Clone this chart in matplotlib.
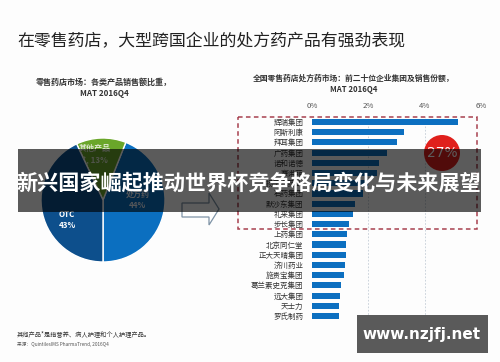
import matplotlib
matplotlib.use("Agg")
import matplotlib.pyplot as plt
from matplotlib.patches import Rectangle, Circle, FancyArrow, Polygon
import numpy as np

plt.rcParams['font.family'] = ['Noto Sans CJK SC', 'DejaVu Sans']

# ---------------- data ----------------
main_title = "在零售药店，大型跨国企业的处方药产品有强劲表现"
pie_title = "零售药店市场：各类产品销售额比重，\nMAT 2016Q4"
pie_labels = ["处方药", "其他产品\n*", "OTC"]
pie_values = [44, 13, 43]
pie_colors = ["#0b6fc0", "#6aa62a", "#0d4f8c"]

bar_title = "全国零售药店处方药市场：前二十位企业集团及销售份额，\nMAT 2016Q4"
companies = ["辉瑞集团", "阿斯利康", "拜耳集团", "广药集团", "诺和诺德", "赛诺菲",
             "扬子江药业", "石药集团", "默沙东集团", "礼来集团", "步长集团", "上药集团",
             "北京同仁堂", "正大天晴集团", "济川药业", "施贵宝集团", "葛兰素史克集团",
             "远大集团", "天士力", "罗氏制药"]
shares = [5.2, 3.27, 3.02, 2.67, 2.39, 2.3, 2.0, 1.82, 1.53, 1.45, 1.32, 1.23,
          1.21, 1.2, 1.17, 1.14, 1.02, 1.0, 0.96, 0.96]
x_ticks = [0, 2, 4, 6]
x_ticklabels = ["0%", "2%", "4%", "6%"]
top_group_share = "27%"
n_top = 11

banner_text = "新兴国家崛起推动世界杯竞争格局变化与未来展望"
watermark = "www.nzjfj.net"
footnote = "其他产品*是指营养、病人护理和个人护理产品。"
source = "来源：QuintilesIMS PharmaTrend, 2016Q4"

W, H = 500, 362
fig = plt.figure(figsize=(W / 100, H / 100), dpi=100)
fig.patch.set_facecolor("#fdfdfd")

def fx(x):
    return x / W

def fy(y):
    return 1 - y / H

# ---------------- titles ----------------
fig.text(fx(17), fy(41), main_title, fontsize=12.2, color="#222222",
         ha="left", va="center", fontweight="medium")
fig.text(fx(104), fy(88), pie_title, fontsize=5.8, color="#333333",
         ha="center", va="center", fontweight="bold", linespacing=1.3)
fig.text(fx(354), fy(84), bar_title, fontsize=5.6, color="#333333",
         ha="center", va="center", fontweight="bold", linespacing=1.3)
fig.text(fx(17), fy(334), footnote, fontsize=4.5, color="#333333",
         ha="left", va="center", style="italic")
fig.text(fx(17), fy(344), source, fontsize=3.4, color="#555555",
         ha="left", va="center")

# ---------------- pie ----------------
cx, cy, r = 103, 200, 62
pax = fig.add_axes([fx(cx - r), fy(cy + r), fx(2 * r), (2 * r) / H])
wedges, _ = pax.pie(pie_values, colors=pie_colors, startangle=-90,
                    counterclock=True,
                    wedgeprops=dict(edgecolor="white", linewidth=1.0))
pax.set_xlim(-1, 1)
pax.set_ylim(-1, 1)
pax.set_aspect("auto")
pax.axis("off")
label_pos = [(0.56, 0.0), (-0.13, 0.74), (-0.58, -0.32)]
label_col = ["#e8eef5", "#dfe8d0", "white"]
for lab, v, (lx, ly), c in zip(pie_labels, pie_values, label_pos, label_col):
    txt = f"{lab}\n{v}%" if "*" not in lab else f"{lab.splitlines()[0]}\n{lab.splitlines()[1]}, {v}%"
    pax.text(lx, ly, txt, ha="center", va="center", fontsize=5.8,
             color=c, fontweight="bold", linespacing=1.25)

# ---------------- bars ----------------
top_px, bot_px = 116.9, 321.1
bax = fig.add_axes([fx(312), fy(bot_px), fx(481) - fx(312), (bot_px - top_px) / H])
y = np.arange(len(companies))
bax.barh(y, shares, height=0.6, color="#0c6fc0", zorder=3)
bax.set_ylim(len(companies) - 0.5, -0.5)
bax.set_xlim(0, 6)
bax.set_yticks(y)
bax.set_yticklabels(companies, fontsize=5.4, color="#333333")
bax.set_xticks(x_ticks)
bax.set_xticklabels(x_ticklabels, fontsize=5.6, color="#555555")
bax.xaxis.tick_top()
bax.tick_params(axis="both", length=0)
bax.tick_params(axis="x", pad=5)
bax.tick_params(axis="y", pad=6)
for s in bax.spines.values():
    s.set_visible(False)
for t in x_ticks[1:-1]:
    bax.axvline(t, color="#c3ccd6", linewidth=0.6, linestyle=(0, (2, 2)), zorder=1)
bax.set_facecolor("none")

# ---------------- overlay (pixel coords) ----------------
ov = fig.add_axes([0, 0, 1, 1], zorder=10)
ov.set_xlim(0, W)
ov.set_ylim(H, 0)
ov.axis("off")
ov.patch.set_alpha(0)

# dashed rectangle around the top companies
row_px = (bot_px - top_px) / len(companies)
rect_bottom = top_px + n_top * row_px
ov.add_patch(Rectangle((238, 117), 477 - 238, rect_bottom - 117, fill=False,
                       edgecolor="#a8404f", linewidth=1.1, linestyle=(0, (3, 2.2)), zorder=2))

# red circle
ov.add_patch(Circle((442, 153), 18, facecolor="#e0201c", edgecolor="none", zorder=3))
ov.text(442, 153, top_group_share, ha="center", va="center", fontsize=10,
        color="white", zorder=4, family="DejaVu Sans")

# arrow
arrow_pts = [(182, 203), (209, 203), (209, 193), (219, 209), (209, 225), (209, 217), (182, 217)]
ov.add_patch(Polygon(arrow_pts, closed=True, facecolor="white",
                     edgecolor="#7e93a6", linewidth=0.9, zorder=3))

# banner
ov.add_patch(Rectangle((18, 149), 481 - 18, 63, facecolor="black", alpha=0.64,
                       edgecolor="none", zorder=5))
ov.text(249, 183, banner_text, ha="center", va="center", fontsize=15.2,
        color="white", fontweight="bold", zorder=6)

# watermark
ov.add_patch(Rectangle((357, 315), 131, 38, facecolor="#5a5a5a", edgecolor="none", zorder=7))
ov.text(422, 334, watermark, ha="center", va="center", fontsize=11,
        color="white", fontweight="bold", zorder=8, family="DejaVu Sans")

fig.savefig("out.png", dpi=100, facecolor=fig.get_facecolor())
